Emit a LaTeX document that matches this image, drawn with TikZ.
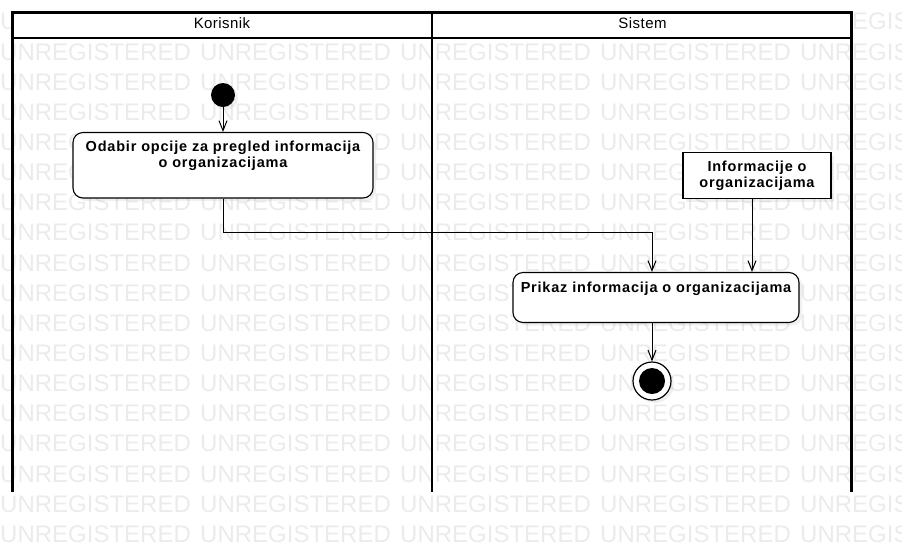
\documentclass[tikz,border=0pt]{standalone}
\usepackage{fontspec}
\setmainfont{Liberation Sans}
\newfontfamily\lanefont[LetterSpace=3]{Liberation Sans}
\newfontfamily\actfont[LetterSpace=5.5]{Liberation Sans}
\usetikzlibrary{arrows.meta,shadows}

\begin{document}
\begin{tikzpicture}[x=1pt, y=-1pt,
    wmtext/.style={anchor=base west, inner sep=0pt, text=black!8, font=\fontsize{24}{24}\selectfont},
    laneline/.style={line width=2.6pt},
    lanetitle/.style={inner sep=0pt, font=\lanefont\fontsize{15}{15}\selectfont},
    boxshadow/.style={drop shadow={shadow xshift=3pt, shadow yshift=-3pt, opacity=0.12}},
    actionbox/.style={draw, line width=1.1pt, rounded corners=10pt, fill=white, inner sep=0pt, boxshadow},
    actiontext/.style={anchor=north, inner sep=0pt, align=center, font=\actfont\bfseries\fontsize{14.5}{16}\selectfont},
    objectbox/.style={draw, line width=1.1pt, fill=white, inner sep=0pt, align=center, boxshadow,
      font=\actfont\bfseries\fontsize{14.5}{16}\selectfont},
    flow/.style={line width=1pt, -{Straight Barb[length=10pt, width=8pt]}},
    startdot/.style={circle, fill=black, minimum size=24pt, inner sep=0pt, boxshadow},
    enddot/.style={circle, draw, fill=white, line width=1.2pt, minimum size=38pt, inner sep=0pt, boxshadow},
    enddotcore/.style={circle, fill=black, minimum size=26pt, inner sep=0pt}
]
    \useasboundingbox (0,0) rectangle (902,542);

    % watermark
    \foreach \row in {0,...,17}
        \foreach \col in {0,...,4}
            \node[wmtext] (wm-\row-\col) at (200*\col, 29.85+30.15*\row) {UNREGISTERED};

    % swimlanes
    \fill[white] (12.5,12.5) rectangle (851.5,38);
    \draw[laneline] (12.5,492) -- (12.5,12.5) -- (851.5,12.5) -- (851.5,492);
    \draw[laneline] (432,12.5) -- (432,492);
    \draw[laneline] (12.5,38) -- (851.5,38);
    \node[lanetitle] (korisnik) at (222,23) {Korisnik};
    \node[lanetitle] (sistem) at (642.5,23) {Sistem};

    % activities
    \node[startdot] (start) at (223,95) {};
    \node[actionbox, minimum width=300pt, minimum height=65.5pt] (odabir) at (223,165.25) {};
    \node[actiontext] (odabir-txt) at ([yshift=-9pt]odabir.north) {Odabir opcije za pregled informacija\\o organizacijama};
    \node[objectbox, minimum width=148pt, minimum height=46pt] (info) at (757,175.5) {Informacije o\\organizacijama};
    \node[actionbox, minimum width=286pt, minimum height=50pt] (prikaz) at (656,297.5) {};
    \node[actiontext] (prikaz-txt) at ([yshift=-9.5pt]prikaz.north) {Prikaz informacija o organizacijama};
    \node[enddot] (kraj) at (652,381) {};
    \node[enddotcore] (kraj-core) at (kraj) {};

    % flows
    \draw[flow] (start) -- (odabir);
    \draw[flow] (odabir.south) -- ++(0,34) -| ([xshift=-4pt]prikaz.north);
    \draw[flow] ([xshift=-5pt]info.south) -- ([xshift=-5pt]info.south |- prikaz.north);
    \draw[flow] (prikaz.south -| kraj) -- (kraj);
\end{tikzpicture}
\end{document}
